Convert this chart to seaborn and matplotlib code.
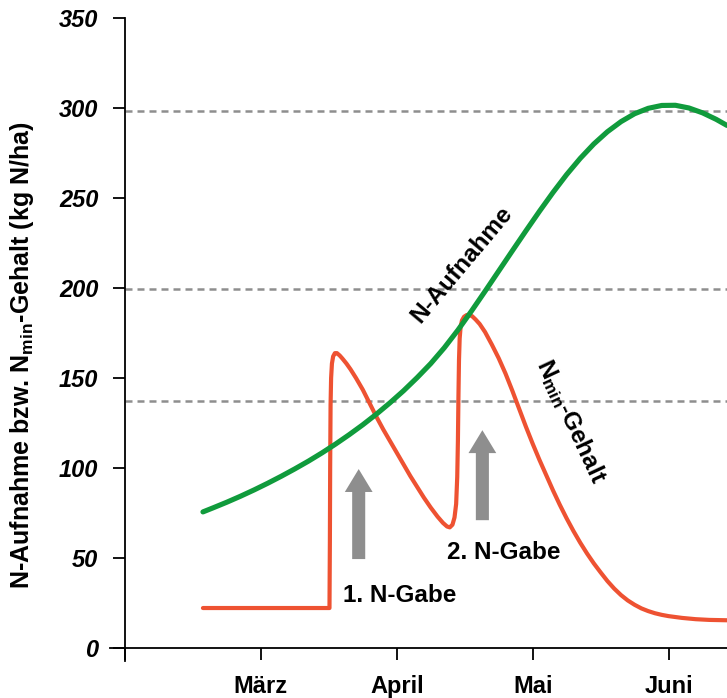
import numpy as np
import pandas as pd
import matplotlib
matplotlib.use("Agg")
import matplotlib.pyplot as plt
import seaborn as sns

# months on the x axis (0 = start of Feb, 1 = März, ...)
month_ticks = [0, 1, 2, 3, 4]
month_labels = ["", "März", "April", "Mai", "Juni"]
y_ticks = [0, 50, 100, 150, 200, 250, 300, 350]

# N-Aufnahme (green)
aufnahme_x = [0.574, 0.65, 0.75, 0.85, 0.95, 1.05, 1.15, 1.25, 1.35, 1.45, 1.55, 1.65, 1.75,
              1.85, 1.95, 2.05, 2.15, 2.25, 2.35, 2.45, 2.55, 2.65, 2.75, 2.85, 2.95, 3.05,
              3.15, 3.25, 3.35, 3.45, 3.55, 3.65, 3.75, 3.85, 3.95, 4.05, 4.15, 4.25, 4.35, 4.43]
aufnahme_y = [75.6, 77.9, 81.0, 84.3, 87.8, 91.5, 95.4, 99.5, 103.8, 108.4, 113.3, 118.5, 124.0,
              129.9, 136.2, 142.9, 150.2, 158.0, 166.8, 176.6, 187.2, 198.2, 209.4, 220.6, 231.7, 242.6,
              253.1, 263.0, 272.0, 280.0, 286.8, 292.4, 296.8, 299.8, 301.4, 301.5, 300.0, 297.3, 293.7, 290.3]

# Nmin-Gehalt (red)
nmin_x = [0.574, 1.505, 1.508, 1.510, 1.513, 1.517, 1.523, 1.532, 1.545, 1.56, 1.58, 1.60, 1.63,
          1.66, 1.70, 1.75, 1.80, 1.85, 1.90, 1.95, 2.00, 2.05, 2.10, 2.15, 2.20, 2.25, 2.30,
          2.34, 2.37, 2.39, 2.41, 2.425, 2.437, 2.445, 2.45, 2.454, 2.458, 2.463, 2.47, 2.48,
          2.495, 2.515, 2.535, 2.555, 2.58, 2.61, 2.65, 2.70, 2.75, 2.80, 2.85, 2.90, 2.95,
          3.00, 3.05, 3.10, 3.15, 3.20, 3.25, 3.30, 3.35, 3.40, 3.45, 3.50, 3.55, 3.60, 3.65,
          3.70, 3.75, 3.80, 3.85, 3.90, 3.95, 4.00, 4.10, 4.20, 4.30, 4.43]
nmin_y = [22.2, 22.2, 60, 100, 135, 150, 158, 162, 163.8, 163.8, 162.5, 160.8, 158.0,
          154.8, 150.0, 143.5, 136.0, 128.5, 121.5, 115.0, 108.5, 102.0, 95.5, 89.5, 83.5, 78.0, 73.0,
          69.5, 67.5, 67.0, 68.5, 72.5, 80, 95, 115, 140, 160, 172, 178.5, 182,
          184, 185, 185, 184.3, 182.5, 180.0, 175.5, 168.5, 161.0, 152.5, 143.0, 133.0, 123.0,
          113.5, 104.5, 96.0, 87.5, 79.5, 72.0, 65.0, 58.5, 52.5, 47.0, 42.0, 37.2, 33.0, 29.4,
          26.4, 24.0, 22.0, 20.5, 19.3, 18.4, 17.7, 16.7, 16.0, 15.6, 15.4]

ref_levels = [298.5, 199.5, 137]

# fertiliser arrows: x position, base and tip
arrow_x = [1.72, 2.63]
arrow_base = [49.4, 71]
arrow_tip = [99.4, 121]
gabe_labels = ["1. N-Gabe", "2. N-Gabe"]

green = "#109b3c"
red = "#ee5232"
grey = "#8e8e8e"

sns.set_theme(style="white")
plt.rcParams["font.family"] = ["Liberation Sans", "DejaVu Sans"]
plt.rcParams["font.weight"] = "bold"
plt.rcParams["text.color"] = "black"
plt.rcParams["axes.labelcolor"] = "black"
plt.rcParams["xtick.color"] = "black"
plt.rcParams["ytick.color"] = "black"
plt.rcParams["mathtext.fontset"] = "custom"
plt.rcParams["mathtext.rm"] = "Liberation Sans:bold"
plt.rcParams["mathtext.it"] = "Liberation Sans:bold"
plt.rcParams["mathtext.bf"] = "Liberation Sans:bold"

fig = plt.figure(figsize=(7.27, 6.98), dpi=100)
ax = fig.add_axes([0.1513, 0.0536, 0.8487, 0.9258])

for lv in ref_levels:
    ax.hlines(lv, 0, 4.43, colors=grey, linewidth=1.8, linestyles=(0, (2.8, 2.0)), zorder=1)

df_n = pd.DataFrame({"x": nmin_x, "y": nmin_y})
df_a = pd.DataFrame({"x": aufnahme_x, "y": aufnahme_y})
sns.lineplot(data=df_n, x="x", y="y", sort=False, estimator=None, color=red,
             linewidth=3.0, ax=ax, zorder=2)
sns.lineplot(data=df_a, x="x", y="y", sort=False, estimator=None, color=green,
             linewidth=3.7, ax=ax, zorder=3)
for ln in ax.get_lines():
    ln.set_solid_joinstyle("round")

for x0, b, t in zip(arrow_x, arrow_base, arrow_tip):
    ax.annotate("", xy=(x0, t), xytext=(x0, b),
                arrowprops=dict(arrowstyle="simple,head_length=16.5,head_width=20,tail_width=9.4",
                                mutation_scale=1, color=grey, shrinkA=0, shrinkB=0, lw=0))

ax.text(2.02, 28.9, gabe_labels[0], fontsize=17.5, fontweight="bold", ha="center", va="center")
ax.text(2.79, 53.3, gabe_labels[1], fontsize=17.5, fontweight="bold", ha="center", va="center")
ax.text(2.48, 213, "N-Aufnahme", fontsize=17.5, fontweight="bold", rotation=50,
        ha="center", va="center", rotation_mode="anchor")
ax.text(3.28, 126, r"N$_{\mathrm{min}}$-Gehalt", fontsize=17.5, fontweight="bold", rotation=-65,
        ha="center", va="center", rotation_mode="anchor")

ax.set_xlim(-0.11, 4.43)
ax.set_ylim(-7, 352)

for s in ["top", "right"]:
    ax.spines[s].set_visible(False)
ax.spines["left"].set_position(("data", 0))
ax.spines["bottom"].set_position(("data", 0))
ax.spines["left"].set_bounds(-7, 350)
ax.spines["bottom"].set_bounds(-0.11, 4.43)
for s in ["left", "bottom"]:
    ax.spines[s].set_color("black")
    ax.spines[s].set_linewidth(1.3)

ax.set_xticks(month_ticks)
ax.set_xticklabels(month_labels, fontsize=17, fontweight="bold")
ax.set_yticks(y_ticks)
ax.set_yticklabels([str(v) for v in y_ticks], fontsize=17, fontweight="bold", fontstyle="italic")
ax.tick_params(axis="y", direction="out", length=8.6, width=1.3, pad=10.5, color="black",
               left=True)
ax.tick_params(axis="x", direction="out", length=8.6, width=1.3, pad=11, color="black",
               bottom=True)

ax.set_xlabel("")
ax.set_ylabel(r"N-Aufnahme bzw. N$_{\mathrm{min}}$-Gehalt (kg N/ha)", fontsize=18,
              fontweight="bold")
ax.yaxis.set_label_coords(-0.12, 0.473)

fig.savefig("out.png", dpi=100)
